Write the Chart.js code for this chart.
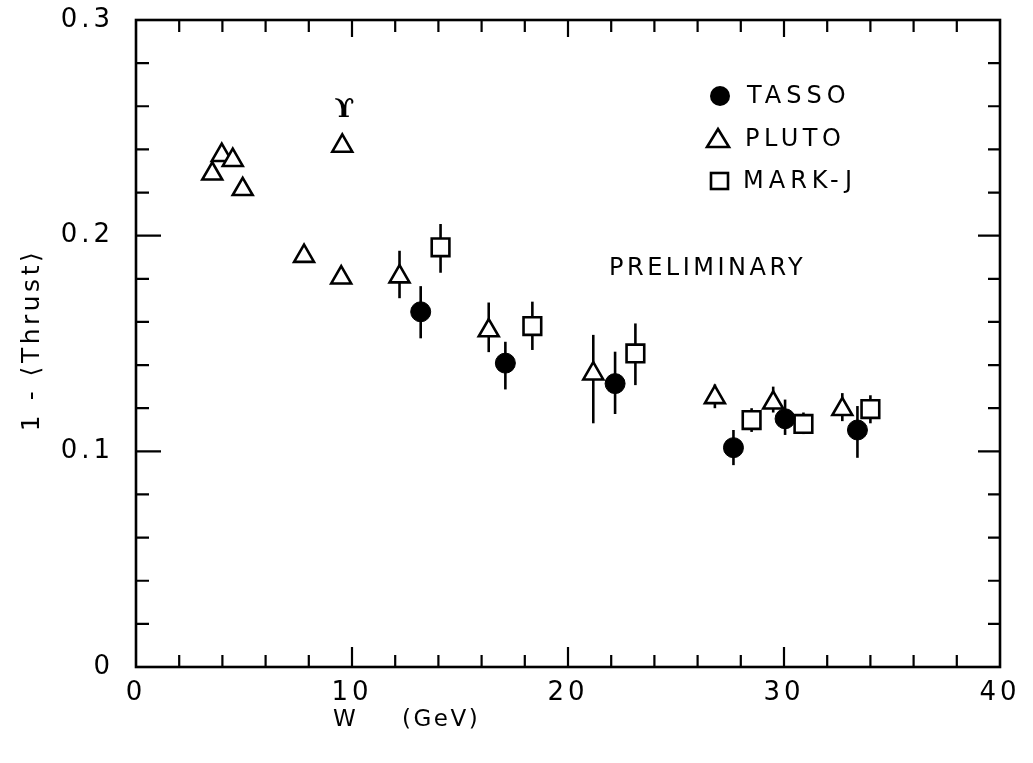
<!DOCTYPE html>
<html>
<head>
<meta charset="utf-8">
<script src="https://cdn.jsdelivr.net/npm/chart.js@4/dist/chart.umd.min.js"></script>
<style>
  html, body { margin: 0; padding: 0; background: #fff; }
  #wrap { width: 1033px; height: 763px; }
</style>
</head>
<body>
<div id="wrap"><canvas id="c" width="1033" height="763"></canvas></div>
<script>
// 1 - <Thrust> versus centre-of-mass energy W (GeV)
const tassoW  = [13.18, 17.1, 22.18, 27.66, 30.05, 33.4];
const tassoT  = [0.1647, 0.1409, 0.1314, 0.1017, 0.1151, 0.1099];
const tassoLo = [0.1524, 0.1287, 0.1173, 0.0936, 0.1076, 0.097];
const tassoHi = [0.1766, 0.1508, 0.1462, 0.1099, 0.124, 0.121];

const plutoW  = [3.53, 3.97, 4.48, 4.94, 7.78, 9.55, 9.5, 12.2, 16.33, 21.17, 26.8, 29.5, 32.7];
const plutoT  = [0.2287, 0.2373, 0.235, 0.2215, 0.1905, 0.2416, 0.1805, 0.181, 0.156, 0.136, 0.125, 0.1225, 0.1195];
const plutoLo = [null, null, null, null, null, null, null, 0.171, 0.146, 0.113, 0.120, 0.118, 0.114];
const plutoHi = [null, null, null, null, null, null, null, 0.193, 0.169, 0.154, 0.131, 0.130, 0.127];

const markjW  = [14.1, 18.35, 23.12, 28.5, 30.9, 34.0];
const markjT  = [0.1946, 0.1581, 0.1454, 0.1145, 0.1127, 0.1196];
const markjLo = [0.1828, 0.147, 0.1307, 0.109, 0.108, 0.113];
const markjHi = [0.2054, 0.1694, 0.1593, 0.120, 0.118, 0.126];

const xTickLabels = ['0', '10', '20', '30', '40'];
const yTickLabels = ['0', '0.1', '0.2', '0.3'];
const seriesNames = ['TASSO', 'PLUTO', 'MARK-J'];

const FONT = "'DejaVu Sans', sans-serif";
const INK = '#000';

function pts(xs, ys) { return xs.map((x, i) => ({ x: x, y: ys[i] })); }

// wide letter spacing for the tick labels
const spacing = {
  id: 'spacing',
  beforeDraw(chart) { chart.ctx.letterSpacing = '4px'; }
};

// vertical error bars, drawn under the markers
const errorBars = {
  id: 'errorBars',
  beforeDatasetsDraw(chart) {
    const { ctx, scales: { x, y } } = chart;
    ctx.save();
    ctx.strokeStyle = INK;
    ctx.lineWidth = 2.6;
    chart.data.datasets.forEach(ds => {
      ds.data.forEach((p, i) => {
        const lo = ds.errLo[i], hi = ds.errHi[i];
        if (lo == null || hi == null) return;
        const px = x.getPixelForValue(p.x);
        ctx.beginPath();
        ctx.moveTo(px, y.getPixelForValue(lo));
        ctx.lineTo(px, y.getPixelForValue(hi));
        ctx.stroke();
      });
    });
    ctx.restore();
  }
};

// box frame with inward ticks on all four sides, legend and annotations
const frame = {
  id: 'frame',
  beforeDatasetsDraw(chart) {
    const { ctx, chartArea: a, scales: { x, y } } = chart;
    ctx.save();
    ctx.strokeStyle = INK;
    ctx.lineWidth = 2.6;
    ctx.lineCap = 'square';
    ctx.strokeRect(a.left, a.top, a.right - a.left, a.bottom - a.top);
    ctx.lineWidth = 2.2;
    ctx.lineCap = 'butt';
    for (let v = 2; v < 40; v += 2) {
      const px = x.getPixelForValue(v);
      const major = v % 10 === 0;
      ctx.beginPath();
      ctx.moveTo(px, a.bottom); ctx.lineTo(px, a.bottom - (major ? 20 : 12));
      ctx.moveTo(px, a.top);    ctx.lineTo(px, a.top + (major ? 17 : 12));
      ctx.stroke();
    }
    for (let k = 1; k < 15; k++) {
      const py = y.getPixelForValue(k * 0.02);
      const major = k % 5 === 0;
      ctx.beginPath();
      ctx.moveTo(a.left, py);  ctx.lineTo(a.left + (major ? 25 : 13), py);
      ctx.moveTo(a.right, py); ctx.lineTo(a.right - (major ? 22 : 12), py);
      ctx.stroke();
    }
    ctx.restore();
  },
  afterDraw(chart) {
    const { ctx, scales: { x } } = chart;
    ctx.save();
    ctx.fillStyle = INK;
    ctx.strokeStyle = INK;
    ctx.textBaseline = 'middle';

    // legend
    const rows = [96, 139, 181];
    ctx.beginPath(); ctx.arc(720, rows[0], 10, 0, Math.PI * 2); ctx.fill();
    ctx.lineWidth = 2.6;
    ctx.beginPath();
    ctx.moveTo(718, rows[1] - 10); ctx.lineTo(729, rows[1] + 8); ctx.lineTo(707, rows[1] + 8); ctx.closePath();
    ctx.stroke();
    ctx.strokeRect(711, rows[2] - 8, 17, 16);

    ctx.font = '24px ' + FONT;
    ctx.textAlign = 'left';
    ctx.letterSpacing = '5px';
    ctx.fillText(seriesNames[0], 747, rows[0] + 1);
    ctx.letterSpacing = '4.5px';
    ctx.fillText(seriesNames[1], 745, rows[1] + 1);
    ctx.letterSpacing = '5px';
    ctx.fillText(seriesNames[2], 743, rows[2] + 1);

    ctx.letterSpacing = '3.5px';
    ctx.fillText('PRELIMINARY', 609, 269);

    // Upsilon resonance marker
    ctx.letterSpacing = '0px';
    ctx.textAlign = 'center';
    ctx.font = 'bold 26px "DejaVu Serif", serif';
    ctx.fillText('\u03D2', x.getPixelForValue(9.65), 110);

    // axis titles
    ctx.font = '23px ' + FONT;
    ctx.letterSpacing = '2.5px';
    ctx.textAlign = 'left';
    ctx.fillText('W', 333, 720);
    ctx.fillText('(GeV)', 402, 720);

    ctx.translate(32, 340);
    ctx.rotate(-Math.PI / 2);
    ctx.textAlign = 'center';
    ctx.font = '25px ' + FONT;
    ctx.letterSpacing = '3.5px';
    ctx.fillText('1 - \u27E8Thrust\u27E9', 0, 0);
    ctx.restore();
  }
};

new Chart(document.getElementById('c'), {
  type: 'scatter',
  data: {
    datasets: [
      { label: seriesNames[0], data: pts(tassoW, tassoT), errLo: tassoLo, errHi: tassoHi,
        pointStyle: 'circle', pointRadius: 10, pointBackgroundColor: INK, pointBorderColor: INK, pointBorderWidth: 1 },
      { label: seriesNames[1], data: pts(plutoW, plutoT), errLo: plutoLo, errHi: plutoHi,
        pointStyle: 'triangle', pointRadius: 11.5, pointBackgroundColor: '#fff', pointBorderColor: INK, pointBorderWidth: 2.6 },
      { label: seriesNames[2], data: pts(markjW, markjT), errLo: markjLo, errHi: markjHi,
        pointStyle: 'rect', pointRadius: 12.5, pointBackgroundColor: '#fff', pointBorderColor: INK, pointBorderWidth: 2.6 }
    ]
  },
  options: {
    responsive: false,
    animation: false,
    devicePixelRatio: 1,
    layout: { padding: { top: 20, right: 33, left: 0, bottom: 0 } },
    plugins: { legend: { display: false }, tooltip: { enabled: false } },
    scales: {
      x: {
        type: 'linear', min: 0, max: 40,
        afterFit(s) { s.height = 96; s.paddingLeft = 0; s.paddingRight = 0; },
        afterBuildTicks(s) { s.ticks = xTickLabels.map(t => ({ value: Number(t) })); },
        grid: { display: false, drawTicks: false },
        border: { display: false },
        ticks: {
          padding: 11, color: INK, maxRotation: 0,
          font: { family: FONT, size: 26 },
          callback: (v, i) => xTickLabels[i]
        }
      },
      y: {
        type: 'linear', min: 0, max: 0.3,
        afterFit(s) { s.width = 136; s.paddingTop = 0; s.paddingBottom = 0; },
        afterBuildTicks(s) { s.ticks = yTickLabels.map(t => ({ value: Number(t) })); },
        grid: { display: false, drawTicks: false },
        border: { display: false },
        ticks: {
          padding: 22, color: INK,
          font: { family: FONT, size: 26 },
          callback: (v, i) => yTickLabels[i]
        }
      }
    }
  },
  plugins: [spacing, errorBars, frame]
});
</script>
</body>
</html>
